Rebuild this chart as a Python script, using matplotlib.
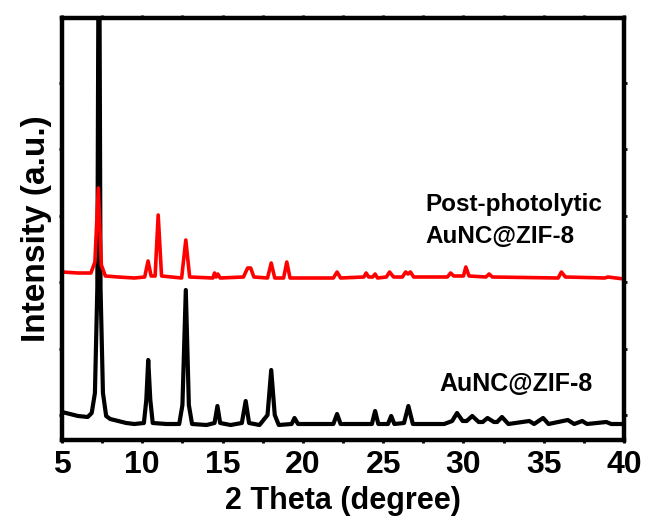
import numpy as np
import matplotlib
matplotlib.use('Agg')
from matplotlib import pyplot as plt
from matplotlib.ticker import MultipleLocator

# XRD patterns (2 theta in degree, intensity in a.u.)
theta_zif = [5.0, 5.5, 6.0, 6.6, 6.85, 7.05, 7.2, 7.3, 7.4, 7.55, 7.75, 8.0, 8.5, 9.0, 9.5,
             10.1, 10.25, 10.37, 10.5, 10.65, 11.5, 12.3, 12.5, 12.71, 12.9, 13.1,
             14.0, 14.5, 14.68, 14.85, 15.5, 16.2, 16.44, 16.65, 17.3, 17.8, 18.03,
             18.25, 18.5, 19.3, 19.48, 19.7, 21.9, 22.13, 22.35, 24.3, 24.5, 24.7,
             25.3, 25.5, 25.7, 26.3, 26.57, 26.85, 28.8, 29.3, 29.6, 29.95, 30.2, 30.55,
             30.95, 31.2, 31.5, 31.9, 32.1, 32.4, 32.8, 34.1, 34.4, 34.96, 35.3, 36.5, 36.9,
             37.4, 37.7, 38.9, 39.2, 40.0]
int_zif = [26, 24, 22, 21, 25, 45, 150, 600, 150, 45, 22, 19, 17, 15, 14,
           15, 38, 78, 38, 15, 14, 14, 33, 148, 33, 14,
           13, 15, 32, 15, 13, 15, 37, 15, 13, 23, 68,
           23, 13, 14, 20, 14, 14, 24, 14, 14, 27, 14,
           14, 22, 14, 15, 32, 14, 14, 17, 25, 17, 17, 22,
           16, 16, 20, 16, 16, 21, 14, 17, 14, 20, 14, 18, 14,
           17, 14, 16, 14, 14]

theta_post = [5.0, 6.0, 6.8, 7.05, 7.26, 7.45, 7.7, 8.5, 9.5, 10.15, 10.36, 10.55,
              10.8, 10.99, 11.2, 12.45, 12.71, 12.95, 14.4, 14.5, 14.6, 14.7, 14.85,
              16.3, 16.56, 16.75, 16.95, 17.8, 18.03, 18.25, 18.8, 19.0, 19.2, 21.9,
              22.13, 22.35, 23.8, 23.94, 24.1, 24.35, 24.5, 24.65, 25.2, 25.4, 25.65,
              26.2, 26.4, 26.55, 26.7, 26.9, 29.0, 29.2, 29.4, 30.0, 30.15, 30.35,
              31.4, 31.6, 31.8, 35.9, 36.1, 36.35, 38.8, 39.0, 40.0]
int_post = [166, 165, 165, 176, 250, 173, 162, 161, 160, 161, 177, 162,
            162, 223, 162, 160, 198, 161, 160, 165, 161, 164, 160,
            161, 170, 170, 161, 160, 175, 160, 160, 176, 160, 160,
            166, 160, 161, 165, 161, 161, 164, 160, 161, 166, 161,
            161, 166, 164, 166, 161, 161, 165, 162, 162, 171, 162,
            161, 164, 161, 160, 166, 161, 160, 161, 159]

labels = ['AuNC@ZIF-8', 'Post-photolytic\nAuNC@ZIF-8']

plt.rcParams['font.family'] = ['Liberation Sans', 'DejaVu Sans']
plt.rcParams['font.weight'] = 'bold'

fig = plt.figure(figsize=(6.48, 5.23), dpi=100)
ax = fig.add_axes([62 / 648, 1 - 440 / 523, (624 - 62) / 648, (440 - 18) / 523])

ax.plot(theta_zif, int_zif, color='black', lw=3.0, solid_joinstyle='round',
        solid_capstyle='round')
ax.plot(theta_post, int_post, color='red', lw=2.6, solid_joinstyle='round',
        solid_capstyle='round')

ax.set_xlim(5, 40)
ax.set_ylim(-2, 420)
ax.xaxis.set_major_locator(MultipleLocator(5))
ax.xaxis.set_minor_locator(MultipleLocator(2.5))
ax.set_yticks(np.arange(23, 420, 66.4))
ax.set_yticklabels([])

for sp in ax.spines.values():
    sp.set_linewidth(3.2)
ax.tick_params(axis='both', which='both', direction='out', top=True, right=True,
               width=2, length=2.5, labelsize=23, pad=5)
ax.tick_params(axis='y', which='both', labelleft=False)

ax.set_xlabel('2 Theta (degree)', fontsize=22, fontweight='bold', labelpad=4)
ax.set_ylabel('Intensity (a.u.)', fontsize=24, fontweight='bold', labelpad=5)

ax.text(28.5, 54, labels[0], fontsize=18, fontweight='bold', va='center')
ax.text(27.6, 217, labels[1], fontsize=17.5, fontweight='bold', va='center',
        linespacing=1.5)

fig.savefig('out.png', dpi=100)
